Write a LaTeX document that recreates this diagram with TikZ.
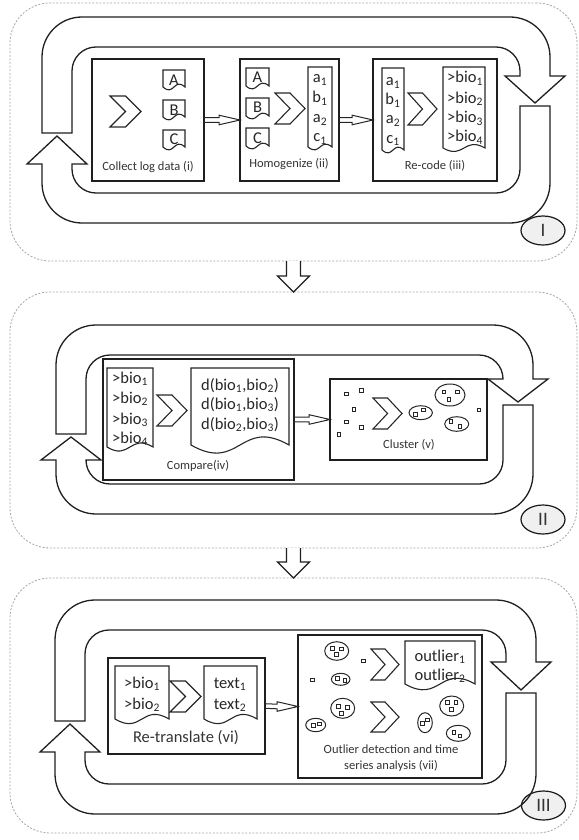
\documentclass[tikz,border=0pt]{standalone}
\usepackage{fontspec}
\setmainfont{Carlito}
\usetikzlibrary{shapes.geometric,calc}
\def\ro{40}\def\ri{24}\def\bw{30}\def\oh{15}
\newcommand{\chev}[4]{%
  \draw[chevst] (#1,#2) -- ({#1+0.5*#3},#2) -- ({#1+#3},{#2+0.5*#4}) -- ({#1+0.5*#3},{#2+#4}) -- (#1,{#2+#4}) -- ({#1+0.5*#3},{#2+0.5*#4}) -- cycle;}
\newcommand{\doc}[5]{%
  \draw[docst] (#1,#4) -- (#1,#2) -- (#3,#2) -- (#3,#4) .. controls ({0.5*(#1+#3)},{#4-#5}) and ({0.5*(#1+#3)},{#4+#5}) .. (#1,#4) -- cycle;}
\newcommand{\sq}[2]{\draw[sqr] ({#1-1.8},{#2-1.8}) rectangle ({#1+1.8},{#2+1.8});}
\newcommand{\clu}[4]{\draw[clus] (#1,#2) ellipse [x radius=#3, y radius=#4];}
\newcommand{\harrow}[2]{%
  \draw[hollow] ($(#1.east)+(0,-2.3)$) -- ($(#2.west)+(-21,-2.3)$) -- ($(#2.west)+(-21,-4.8)$) -- (#2.west) -- ($(#2.west)+(-21,4.8)$) -- ($(#2.west)+(-21,2.3)$) -- ($(#1.east)+(0,2.3)$);}
\newcommand{\darrow}[2]{%
  \draw[band,fill=white] ($(#1.south)+(-7,0)$) -- ($(#2.north)+(-7,-16)$) -- ($(#2.north)+(-16,-16)$) -- (#2.north) -- ($(#2.north)+(16,-16)$) -- ($(#2.north)+(7,-16)$) -- ($(#1.south)+(7,0)$);}
\newcommand{\cycleloop}[8]{%
  \draw[band] (#1,#5) -- (#1,{#3+\ro}) arc[start angle=180,end angle=270,radius=\ro]
    -- ({#2-\ro},#3) arc[start angle=270,end angle=360,radius=\ro]
    -- (#2,#7) -- ({#2+\oh},#7) -- ({#2-\bw/2},{#8-3}) -- ({#2-\bw-\oh},#7) -- ({#2-\bw},#7)
    -- ({#2-\bw},{#3+\bw+\ri}) arc[start angle=0,end angle=-90,radius=\ri]
    -- ({#1+\bw+\ri},{#3+\bw}) arc[start angle=-90,end angle=-180,radius=\ri]
    -- ({#1+\bw},#5) -- cycle;
  \draw[band] (#2,#8) -- (#2,{#4-\ro}) arc[start angle=0,end angle=90,radius=\ro]
    -- ({#1+\ro},#4) arc[start angle=90,end angle=180,radius=\ro]
    -- (#1,#6) -- ({#1-\oh},#6) -- ({#1+\bw/2},{#5+3}) -- ({#1+\bw+\oh},#6) -- ({#1+\bw},#6)
    -- ({#1+\bw},{#4-\bw-\ri}) arc[start angle=180,end angle=90,radius=\ri]
    -- ({#2-\bw-\ri},{#4-\bw}) arc[start angle=90,end angle=0,radius=\ri]
    -- ({#2-\bw},#8) -- cycle;}
\begin{document}
\begin{tikzpicture}[x=1pt,y=-1pt,
  band/.style={draw=black!88, line width=1.3pt, line join=miter},
  boxst/.style={draw=black!88, line width=1.2pt, rectangle, inner sep=0pt, outer sep=0pt},
  docst/.style={draw=black!85, line width=1.1pt},
  chevst/.style={draw=black!85, line width=1.1pt, line join=miter},
  hollow/.style={draw=black!85, line width=1pt, line join=miter},
  panel/.style={draw=black!35, dash pattern=on 2pt off 1.6pt, line width=0.8pt, rounded corners=40pt, rectangle, inner sep=0pt, outer sep=0pt},
  roman/.style={ellipse, draw=black!90, fill=black!6, line width=1.2pt, minimum width=44pt, minimum height=29pt, inner sep=0pt, font=\fontsize{19}{19}\selectfont, text=black!80},
  lab/.style={anchor=base, inner sep=0pt, font=\fontsize{12.5}{14}\selectfont, text=black!80},
  dtx/.style={anchor=base, inner sep=0pt, font=\fontsize{16.5}{18}\selectfont, text=black!85},
  sqr/.style={draw=black!85, line width=0.9pt},
  clus/.style={draw=black!85, line width=1pt},
]
\useasboundingbox (0,0) rectangle (578,840);
% panels
\node[panel, minimum width=567pt, minimum height=258pt] (pI) at (293.5,132) {};
\node[panel, minimum width=567pt, minimum height=256pt] (pII) at (293.5,420) {};
\node[panel, minimum width=567pt, minimum height=255pt] (pIII) at (293.5,705.5) {};
\node[roman] (nI) at (543,230.5) {I};
\node[roman] (nII) at (543,519.5) {II};
\node[roman] (nIII) at (543.5,805.5) {III};
\darrow{pI}{pII}
\darrow{pII}{pIII}
% loops
\cycleloop{42}{550}{17}{223}{133}{164}{76}{106}
\cycleloop{56}{533}{325}{514}{434}{460}{379}{405}
\cycleloop{55}{536}{600}{814}{721}{752}{662}{693}
% ---------- panel I
\node[boxst, minimum width=112pt, minimum height=122pt] (bi) at (148,120) {};
\node[boxst, minimum width=99pt, minimum height=122pt] (bii) at (289.5,120) {};
\node[boxst, minimum width=124pt, minimum height=122pt] (biii) at (435,120) {};
\harrow{bi}{bii}
\harrow{bii}{biii}
\chev{110}{96}{31}{31}
\doc{163}{70}{185}{87}{10}
\doc{163}{100}{185}{117}{10}
\doc{163}{130}{185}{147}{10}
\node[dtx] (tA1) at (174,85.5) {A};
\node[dtx] (tB1) at (174,115.5) {B};
\node[dtx] (tC1) at (174,144) {C};
\node[lab] (li) at (148,170) {Collect log data (i)};
\doc{246}{68}{269}{86}{10}
\doc{246}{98}{269}{116}{10}
\doc{246}{128}{269}{146}{10}
\node[dtx] (tA2) at (257.5,83) {A};
\node[dtx] (tB2) at (257.5,113) {B};
\node[dtx] (tC2) at (257.5,143) {C};
\chev{275}{93}{30}{31}
\doc{308}{67}{332}{147}{10}
\node[dtx] (ta1) at (320,82.5) {a\textsubscript{1}};
\node[dtx] (tb1) at (320,102.5) {b\textsubscript{1}};
\node[dtx] (ta2) at (320,122.5) {a\textsubscript{2}};
\node[dtx] (tc1) at (320,142) {c\textsubscript{1}};
\node[lab] (lii) at (289,167) {Homogenize (ii)};
\doc{382}{68}{404}{150}{10}
\node[dtx] (ua1) at (393,86) {a\textsubscript{1}};
\node[dtx] (ub1) at (393,105) {b\textsubscript{1}};
\node[dtx] (ua2) at (393,124) {a\textsubscript{2}};
\node[dtx] (uc1) at (393,143) {c\textsubscript{1}};
\chev{408}{93}{29}{32}
\doc{443}{67}{485}{148}{12}
\node[dtx] (v1) at (465,83) {>bio\textsubscript{1}};
\node[dtx] (v2) at (465,103) {>bio\textsubscript{2}};
\node[dtx] (v3) at (465,123) {>bio\textsubscript{3}};
\node[dtx] (v4) at (465,142) {>bio\textsubscript{4}};
\node[lab] (liii) at (435,169) {Re-code (iii)};
% ---------- panel II
\node[boxst, minimum width=191pt, minimum height=121pt] (biv) at (198.5,419.5) {};
\node[boxst, minimum width=157pt, minimum height=81pt] (bv) at (408.5,419.5) {};
\harrow{biv}{bv}
\doc{107}{368}{153}{447}{14}
\node[dtx] (w1) at (130,383) {>bio\textsubscript{1}};
\node[dtx] (w2) at (130,403) {>bio\textsubscript{2}};
\node[dtx] (w3) at (130,424) {>bio\textsubscript{3}};
\node[dtx] (w4) at (130,443) {>bio\textsubscript{4}};
\chev{157}{395}{30}{31}
\doc{191}{368}{289}{445}{28}
\node[dtx] (d1) at (240,390) {d(bio\textsubscript{1},bio\textsubscript{2})};
\node[dtx] (d2) at (240,409) {d(bio\textsubscript{1},bio\textsubscript{3})};
\node[dtx] (d3) at (240,429) {d(bio\textsubscript{2},bio\textsubscript{3})};
\node[lab] (liv) at (198,469) {Compare(iv)};
\sq{346.7}{394}\sq{361.7}{390.3}\sq{354}{409.3}\sq{346.7}{422}\sq{361.7}{427.3}\sq{339}{434.7}\sq{479}{410}
\chev{373}{398}{29}{31}
\clu{420.7}{412.7}{11.7}{7}\sq{415.7}{414.3}\sq{423.3}{410}
\clu{450}{395}{15}{11}\sq{444}{392}\sq{457.3}{392}\sq{449}{399.3}
\clu{456.7}{424}{12}{7.3}\sq{451}{421.7}\sq{460}{426.7}
\node[lab] (lv) at (409,448) {Cluster (v)};
% ---------- panel III
\node[boxst, minimum width=157pt, minimum height=96pt] (bvi) at (186.5,706) {};
\node[boxst, minimum width=184pt, minimum height=143pt] (bvii) at (390,706.5) {};
\harrow{bvi}{bvii}
\doc{115}{666}{169}{719}{16}
\node[dtx] (x1) at (142,688) {>bio\textsubscript{1}};
\node[dtx] (x2) at (142,709) {>bio\textsubscript{2}};
\chev{170}{681}{31}{31}
\doc{204}{666}{257}{719}{16}
\node[dtx] (y1) at (230,688) {text\textsubscript{1}};
\node[dtx] (y2) at (230,709) {text\textsubscript{2}};
\node[lab, font=\fontsize{16.5}{18}\selectfont] (lvi) at (186,742) {Re-translate (vi)};
\doc{405}{641}{475}{684}{20}
\node[dtx] (o1) at (440,661) {outlier\textsubscript{1}};
\node[dtx] (o2) at (440,680) {outlier\textsubscript{2}};
\chev{371}{649}{28}{31}
\chev{371}{702}{28}{30}
\clu{336.7}{651}{12}{9.3}\sq{332.3}{648.3}\sq{341.7}{649}\sq{336.7}{654.3}
\sq{363.3}{661}\sq{312.3}{680}
\clu{340.7}{679.3}{9.3}{6}\sq{337.3}{678.3}\sq{345}{680.7}
\clu{342.7}{708.3}{12}{10}\sq{338.3}{706.7}\sq{347.3}{707.3}\sq{341.7}{713.3}
\clu{315.7}{725}{10}{6.7}\sq{313.3}{725.7}\sq{319.3}{724}
\clu{425}{722.7}{7.3}{10}\sq{422.7}{723.3}\sq{427.3}{720}
\clu{451.7}{706}{12}{10}\sq{447.3}{702.3}\sq{456}{702.3}\sq{451.7}{709.3}
\clu{458.3}{733.3}{12}{8}\sq{454}{732.7}\sq{460}{736}
\node[lab] (lvii) at (391,753) {Outlier detection and time};
\node[lab] (lviib) at (391,769) {series analysis (vii)};
\end{tikzpicture}
\end{document}
